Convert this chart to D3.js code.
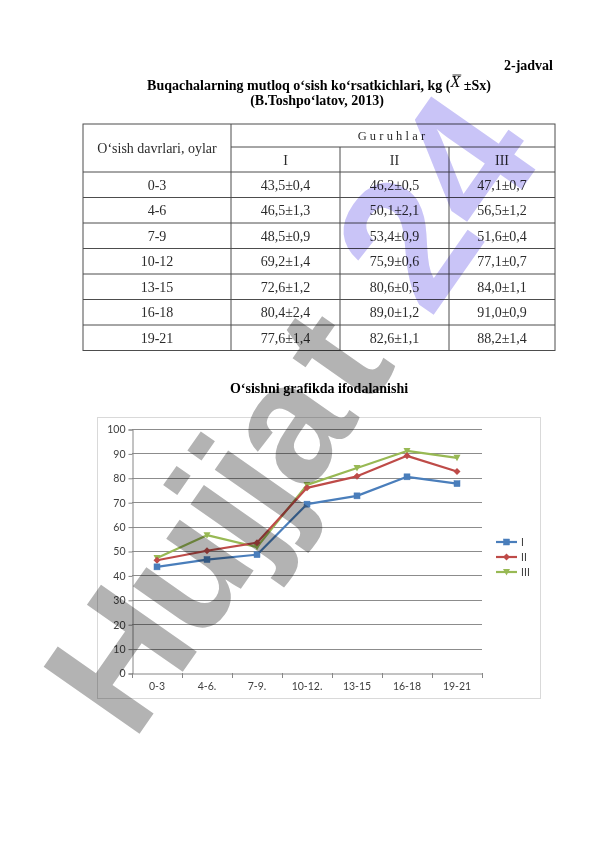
<!DOCTYPE html>
<html>
<head>
<meta charset="utf-8">
<script src="https://cdn.jsdelivr.net/npm/d3@7"></script>
<style>
  html, body { margin: 0; padding: 0; background: #fff; }
  svg { display: block; }
  .serif { font-family: "Liberation Serif", "Times New Roman", serif; }
  .sans { font-family: Lato, "Liberation Sans", sans-serif; }
</style>
</head>
<body>
<svg id="page" width="596" height="842"></svg>
<script>
// ---------------- data ----------------
const periods = ["0-3", "4-6", "7-9", "10-12", "13-15", "16-18", "19-21"];
const chartLabels = ["0-3", "4-6.", "7-9.", "10-12.", "13-15", "16-18", "19-21"];
const groupNames = ["I", "II", "III"];
const meanI   = [43.5, 46.5, 48.5, 69.2, 72.6, 80.4, 77.6];
const seI     = [0.4, 1.3, 0.9, 1.4, 1.2, 2.4, 1.4];
const meanII  = [46.2, 50.1, 53.4, 75.9, 80.6, 89.0, 82.6];
const seII    = [0.5, 2.1, 0.9, 0.6, 0.5, 1.2, 1.1];
const meanIII = [47.1, 56.5, 51.6, 77.1, 84.0, 91.0, 88.2];
const seIII   = [0.7, 1.2, 0.4, 0.7, 1.1, 0.9, 1.4];
const yTicks  = [0, 10, 20, 30, 40, 50, 60, 70, 80, 90, 100];

const series = [
  { name: "I",   mean: meanI,   se: seI,   color: "#4a7ebb", marker: "square" },
  { name: "II",  mean: meanII,  se: seII,  color: "#be4b48", marker: "diamond" },
  { name: "III", mean: meanIII, se: seIII, color: "#98b954", marker: "triangleDown" }
];

const fmt = v => v.toFixed(1).replace(".", ",");

const svg = d3.select("#page");

// ---------------- headings ----------------
svg.append("text").attr("class", "serif")
  .attr("x", 553).attr("y", 70).attr("text-anchor", "end")
  .attr("font-size", 14).attr("font-weight", "bold").text("2-jadval");

const t1 = svg.append("text").attr("class", "serif")
  .attr("x", 319).attr("y", 90).attr("text-anchor", "middle")
  .attr("font-size", 14).attr("font-weight", "bold");
t1.append("tspan").text("Buqachalarning mutloq o‘sish ko‘rsatkichlari, kg (");
t1.append("tspan").attr("font-style", "italic").attr("font-weight", "normal")
  .attr("font-size", 16).attr("dy", -3).text("X");
t1.append("tspan").attr("dy", 3).text(" ±Sx)");
{
  const node = t1.node();
  const prefixLen = "Buqachalarning mutloq o‘sish ko‘rsatkichlari, kg (".length;
  const ext = node.getExtentOfChar(prefixLen);
  svg.append("line")
    .attr("x1", ext.x + 2).attr("x2", ext.x + ext.width + 1)
    .attr("y1", ext.y + 2).attr("y2", ext.y + 2)
    .attr("stroke", "#000").attr("stroke-width", 0.8);
}

svg.append("text").attr("class", "serif")
  .attr("x", 317).attr("y", 105).attr("text-anchor", "middle")
  .attr("font-size", 14).attr("font-weight", "bold").text("(B.Toshpo‘latov, 2013)");

// ---------------- table ----------------
const colX = [83, 231, 340, 449, 555];
const rowY = d3.range(periods.length + 1).map(i => 172 + i * 25.5);
const tTop = 124, tHead1 = 147;
const lineColor = "#4d4d4d";
const tbl = svg.append("g");

tbl.append("rect").attr("x", colX[0]).attr("y", tTop)
  .attr("width", colX[4] - colX[0]).attr("height", rowY[rowY.length - 1] - tTop)
  .attr("fill", "none").attr("stroke", lineColor).attr("stroke-width", 1);
tbl.append("line").attr("x1", colX[1]).attr("x2", colX[4]).attr("y1", tHead1).attr("y2", tHead1)
  .attr("stroke", lineColor);
tbl.selectAll(".hrow").data(rowY.slice(0, -1)).join("line")
  .attr("x1", colX[0]).attr("x2", colX[4]).attr("y1", d => d).attr("y2", d => d)
  .attr("stroke", lineColor);
tbl.append("line").attr("x1", colX[1]).attr("x2", colX[1]).attr("y1", tTop).attr("y2", rowY[rowY.length - 1])
  .attr("stroke", lineColor);
tbl.selectAll(".vcol").data([colX[2], colX[3]]).join("line")
  .attr("x1", d => d).attr("x2", d => d).attr("y1", tHead1).attr("y2", rowY[rowY.length - 1])
  .attr("stroke", lineColor);

const txtColor = "#2b2b2b";
tbl.append("text").attr("class", "serif").attr("fill", txtColor)
  .attr("x", (colX[0] + colX[1]) / 2).attr("y", 153).attr("text-anchor", "middle")
  .attr("font-size", 14).text("O‘sish davrlari, oylar");
tbl.append("text").attr("class", "serif").attr("fill", txtColor)
  .attr("x", (colX[1] + colX[4]) / 2).attr("y", 140).attr("text-anchor", "middle")
  .attr("font-size", 12.5).attr("letter-spacing", 3.2).text("Guruhlar");
tbl.selectAll(".gh").data(groupNames).join("text").attr("class", "serif").attr("fill", txtColor)
  .attr("x", (d, i) => (colX[i + 1] + colX[i + 2]) / 2).attr("y", 165)
  .attr("text-anchor", "middle").attr("font-size", 14).text(d => d);

periods.forEach((p, r) => {
  const yc = rowY[r] + 17.5;
  tbl.append("text").attr("class", "serif").attr("fill", txtColor)
    .attr("x", (colX[0] + colX[1]) / 2).attr("y", yc).attr("text-anchor", "middle")
    .attr("font-size", 14).text(p);
  series.forEach((s, i) => {
    tbl.append("text").attr("class", "serif").attr("fill", txtColor)
      .attr("x", (colX[i + 1] + colX[i + 2]) / 2).attr("y", yc).attr("text-anchor", "middle")
      .attr("font-size", 14).text(fmt(s.mean[r]) + "±" + fmt(s.se[r]));
  });
});

// ---------------- chart ----------------
svg.append("text").attr("class", "serif")
  .attr("x", 319).attr("y", 393).attr("text-anchor", "middle")
  .attr("font-size", 14).attr("font-weight", "bold").text("O‘sishni grafikda ifodalanishi");

svg.append("rect").attr("x", 97.5).attr("y", 417.5).attr("width", 443).attr("height", 281)
  .attr("fill", "#fff").attr("stroke", "#d9d9d9");

const x = d3.scaleBand().domain(chartLabels).range([132, 482]);
const y = d3.scaleLinear().domain([0, 100]).range([673, 429]);
const cx = i => x(chartLabels[i]) + x.bandwidth() / 2;

const chart = svg.append("g");

chart.selectAll(".grid").data(yTicks.filter(d => d > 0)).join("line")
  .attr("x1", 132).attr("x2", 482)
  .attr("y1", d => Math.round(y(d)) + 0.5).attr("y2", d => Math.round(y(d)) + 0.5)
  .attr("stroke", "#8c8c8c").attr("stroke-width", 1);

const yAxis = chart.append("g").attr("transform", "translate(132.5,0.5)")
  .call(d3.axisLeft(y).tickValues(yTicks).tickSize(4).tickPadding(3).tickFormat(d3.format("d")));
yAxis.select(".domain").attr("stroke", "#868686");
yAxis.selectAll(".tick line").attr("stroke", "#868686");
yAxis.selectAll(".tick text").attr("class", "sans").attr("font-size", 10.5).attr("fill", "#404040");

const xAxis = chart.append("g").attr("transform", "translate(0,673.5)")
  .call(d3.axisBottom(x).tickSize(0).tickPadding(9));
xAxis.select(".domain").attr("stroke", "#868686");
xAxis.selectAll(".tick text").attr("class", "sans").attr("font-size", 10.5).attr("fill", "#404040");
chart.selectAll(".xtick").data(d3.range(chartLabels.length + 1)).join("line")
  .attr("x1", i => Math.round(x.range()[0] + i * x.step()) + 0.5)
  .attr("x2", i => Math.round(x.range()[0] + i * x.step()) + 0.5)
  .attr("y1", 673).attr("y2", 678).attr("stroke", "#868686");

function drawMarker(g, type, color, px, py) {
  if (type === "square") {
    g.append("rect").attr("x", px - 3).attr("y", py - 3).attr("width", 6).attr("height", 6)
      .attr("fill", color).attr("stroke", color).attr("stroke-width", 0.5);
  } else if (type === "diamond") {
    g.append("path").attr("d", `M${px},${py - 3.5}L${px + 3.5},${py}L${px},${py + 3.5}L${px - 3.5},${py}Z`)
      .attr("fill", color);
  } else {
    g.append("path").attr("d", `M${px - 3.5},${py - 3}L${px + 3.5},${py - 3}L${px},${py + 3.5}Z`)
      .attr("fill", color);
  }
}

const line = d3.line().x((d, i) => cx(i)).y(d => y(d));
[...series].reverse().forEach(s => {
  chart.append("path").datum(s.mean).attr("d", line)
    .attr("fill", "none").attr("stroke", s.color).attr("stroke-width", 2.2)
    .attr("stroke-linejoin", "round");
});
[...series].reverse().forEach(s => {
  s.mean.forEach((v, i) => drawMarker(chart, s.marker, s.color, cx(i), y(v)));
});

const legend = svg.append("g");
series.forEach((s, i) => {
  const ly = 542 + i * 15;
  legend.append("line").attr("x1", 496).attr("x2", 517).attr("y1", ly).attr("y2", ly)
    .attr("stroke", s.color).attr("stroke-width", 2.2);
  drawMarker(legend, s.marker, s.color, 506.5, ly);
  legend.append("text").attr("class", "sans").attr("x", 521).attr("y", ly + 3.8)
    .attr("font-size", 10.5).attr("fill", "#404040").text(s.name);
});

// ---------------- watermark ----------------
const wm1 = svg.append("text")
  .attr("transform", "translate(133,743) rotate(-55)")
  .attr("font-family", "'Liberation Sans', Arial, sans-serif")
  .attr("font-weight", "bold").attr("font-size", 170).attr("letter-spacing", -5)
  .attr("fill", "#b3b3b3")
  .style("mix-blend-mode", "multiply");
wm1.append("tspan").text("Hujja");
wm1.append("tspan").attr("dx", 14).text("t");
svg.append("text")
  .attr("transform", "translate(430,320) rotate(-55)")
  .attr("font-family", "'Liberation Sans', Arial, sans-serif")
  .attr("font-weight", "bold").attr("font-size", 185).attr("letter-spacing", -4)
  .attr("fill", "#c9c4f7")
  .style("mix-blend-mode", "multiply")
  .text("24");
</script>
</body>
</html>
